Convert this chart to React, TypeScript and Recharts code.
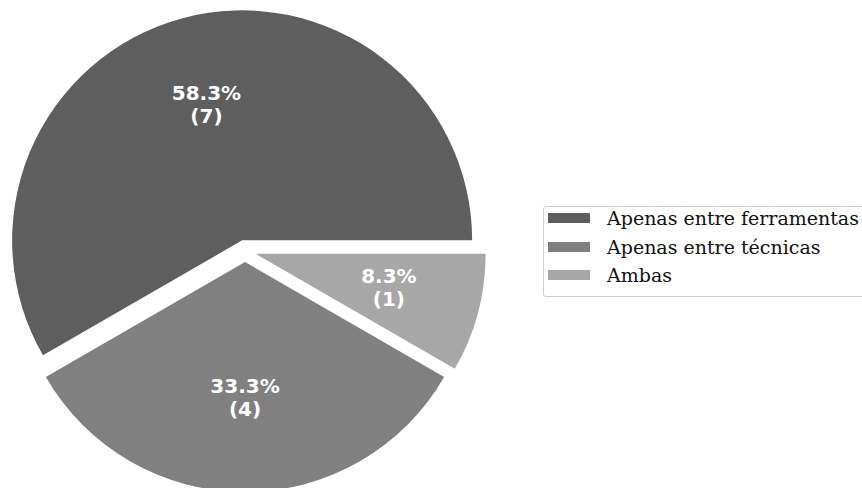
import React from 'react';
import { PieChart, Pie, Cell, Legend, Sector } from 'recharts';

const categories = ['Apenas entre ferramentas', 'Apenas entre técnicas', 'Ambas'];
const counts = [7, 4, 1];
const colors = ['#5e5e5e', '#808080', '#a7a7a7'];

const data = categories.map((name, i) => ({ name, value: counts[i] }));

const RAD = Math.PI / 180;
const EXPLODE = 11;
const OUTER = 230;

const ExplodedSector = (props: any) => {
  const { cx, cy, midAngle } = props;
  const dx = EXPLODE * Math.cos(-midAngle * RAD);
  const dy = EXPLODE * Math.sin(-midAngle * RAD);
  return <Sector {...props} cx={cx + dx} cy={cy + dy} stroke="none" />;
};

const renderLabel = (props: any) => {
  const { cx, cy, midAngle, outerRadius, percent, value } = props;
  const ox = cx + EXPLODE * Math.cos(-midAngle * RAD);
  const oy = cy + EXPLODE * Math.sin(-midAngle * RAD);
  const r = outerRadius * 0.6;
  const x = ox + r * Math.cos(-midAngle * RAD);
  const y = oy + r * Math.sin(-midAngle * RAD);
  return (
    <text
      x={x}
      y={y}
      fill="#ffffff"
      textAnchor="middle"
      fontFamily="DejaVu Sans"
      fontWeight="bold"
      fontSize={20}
    >
      <tspan x={x} dy={-7}>{`${(percent * 100).toFixed(1)}%`}</tspan>
      <tspan x={x} dy={23}>{`(${value})`}</tspan>
    </text>
  );
};

const renderLegend = () => (
  <div
    style={{
      border: '1px solid #cfcfcf',
      borderRadius: 3,
      padding: '0 0 0 4px',
      width: 340,
      height: 89,
      background: '#fff',
      boxSizing: 'content-box',
    }}
  >
    <div style={{ marginTop: -3 }}>
      {categories.map((c, i) => (
        <div key={c} style={{ display: 'flex', alignItems: 'center', height: 28.5 }}>
          <div style={{ width: 42, height: 10, background: colors[i], marginRight: 17 }} />
          <span
            style={{
              fontFamily: 'DejaVu Serif',
              fontSize: 19,
              color: '#111',
              whiteSpace: 'nowrap',
              lineHeight: '28px',
            }}
          >
            {c}
          </span>
        </div>
      ))}
    </div>
  </div>
);

export default function App() {
  return (
    <div
      style={{
        position: 'absolute',
        left: 0,
        top: 0,
        width: 862,
        height: 488,
        overflow: 'hidden',
        background: '#fff',
      }}
    >
      <PieChart width={862} height={488} margin={{ top: 0, right: 0, bottom: 0, left: 0 }}>
        <Pie
          data={data}
          dataKey="value"
          nameKey="name"
          cx={245}
          cy={251}
          outerRadius={OUTER}
          startAngle={0}
          endAngle={360}
          stroke="none"
          isAnimationActive={false}
          labelLine={false}
          label={renderLabel}
          shape={ExplodedSector}
          inactiveShape={ExplodedSector}
          activeShape={ExplodedSector}
        >
          {data.map((d, i) => (
            <Cell key={d.name} fill={colors[i]} />
          ))}
        </Pie>
        <Legend
          content={renderLegend}
          wrapperStyle={{ position: 'absolute', left: 543, top: 206, width: 345 }}
        />
      </PieChart>
    </div>
  );
}
